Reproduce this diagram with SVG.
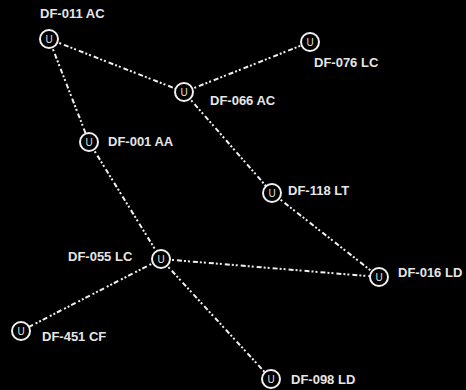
<svg xmlns="http://www.w3.org/2000/svg" width="466" height="390" viewBox="0 0 466 390">
<style>
.e{stroke:#f0f0f0;stroke-width:2;stroke-dasharray:5,2,2,2,2,3;fill:none}
.c{fill:#000;stroke:#f0f0f0;stroke-width:2}
.u{font-family:"Liberation Sans",Arial,sans-serif;font-size:10px;fill:#e0e0e0;text-anchor:middle}
.l{font-family:"Liberation Sans",Arial,sans-serif;font-size:13px;font-weight:bold;fill:#e6e6e6}
</style>
<rect width="466" height="390" fill="#000"/>
<g id="connectors">
<line class="e" x1="49" y1="39" x2="184" y2="92"/>
<line class="e" x1="49" y1="39" x2="89" y2="142"/>
<line class="e" x1="184" y1="92" x2="310" y2="42"/>
<line class="e" x1="184" y1="92" x2="272" y2="193"/>
<line class="e" x1="272" y1="193" x2="379" y2="277"/>
<line class="e" x1="89" y1="142" x2="161" y2="259"/>
<line class="e" x1="161" y1="259" x2="379" y2="277"/>
<line class="e" x1="161" y1="259" x2="21" y2="331"/>
<line class="e" x1="161" y1="259" x2="271" y2="379"/>
</g>
<g id="DF-011-AC"><circle class="c" cx="49" cy="39" r="9"/><text class="u" x="49" y="43">U</text><text class="l" x="40" y="18">DF-011 AC</text></g>
<g id="DF-066-AC"><circle class="c" cx="184" cy="92" r="9"/><text class="u" x="184" y="96">U</text><text class="l" x="210" y="105">DF-066 AC</text></g>
<g id="DF-076-LC"><circle class="c" cx="310" cy="42" r="9"/><text class="u" x="310" y="46">U</text><text class="l" x="314" y="67">DF-076 LC</text></g>
<g id="DF-001-AA"><circle class="c" cx="89" cy="142" r="9"/><text class="u" x="89" y="146">U</text><text class="l" x="108" y="146">DF-001 AA</text></g>
<g id="DF-118-LT"><circle class="c" cx="272" cy="193" r="9"/><text class="u" x="272" y="197">U</text><text class="l" x="288" y="195">DF-118 LT</text></g>
<g id="DF-016-LD"><circle class="c" cx="379" cy="277" r="9"/><text class="u" x="379" y="281">U</text><text class="l" x="398" y="277">DF-016 LD</text></g>
<g id="DF-055-LC"><circle class="c" cx="161" cy="259" r="9"/><text class="u" x="161" y="263">U</text><text class="l" x="68" y="261">DF-055 LC</text></g>
<g id="DF-451-CF"><circle class="c" cx="21" cy="331" r="9"/><text class="u" x="21" y="335">U</text><text class="l" x="42" y="341">DF-451 CF</text></g>
<g id="DF-098-LD"><circle class="c" cx="271" cy="379" r="9"/><text class="u" x="271" y="383">U</text><text class="l" x="291" y="384">DF-098 LD</text></g>
</svg>
